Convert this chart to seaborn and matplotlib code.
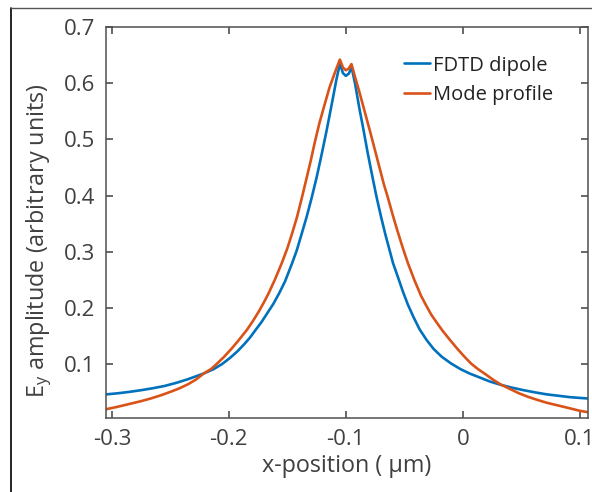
import numpy as np
import pandas as pd
import matplotlib

matplotlib.use("Agg")
import matplotlib.pyplot as plt
from matplotlib.lines import Line2D
import seaborn as sns

# values
fdtd_x = [-0.305, -0.295, -0.285, -0.275, -0.265, -0.255, -0.245, -0.235, -0.2214,
          -0.213, -0.2058, -0.199, -0.193, -0.187, -0.182, -0.1774, -0.172, -0.167,
          -0.162, -0.157, -0.152, -0.1462, -0.142, -0.138, -0.1335, -0.1292, -0.125,
          -0.121, -0.1165, -0.112, -0.108, -0.105, -0.1025, -0.1, -0.0975, -0.095,
          -0.092, -0.0885, -0.085, -0.0815, -0.078, -0.0739, -0.070, -0.066, -0.062,
          -0.0597, -0.055, -0.0512, -0.047, -0.042, -0.037, -0.031, -0.025, -0.018,
          -0.010, -0.002, 0.006, 0.014, 0.023, 0.0325, 0.042, 0.052, 0.062,
          0.072, 0.082, 0.092, 0.107]
fdtd_y = [0.046, 0.048, 0.0505, 0.0535, 0.057, 0.061, 0.0665, 0.073, 0.0833,
          0.091, 0.100, 0.111, 0.122, 0.135, 0.147, 0.160, 0.175, 0.191,
          0.207, 0.226, 0.247, 0.278, 0.302, 0.330, 0.362, 0.396, 0.432,
          0.470, 0.515, 0.563, 0.607, 0.635, 0.618, 0.613, 0.617, 0.628,
          0.598, 0.556, 0.518, 0.478, 0.441, 0.399, 0.363, 0.329, 0.298,
          0.280, 0.252, 0.229, 0.206, 0.183, 0.162, 0.143, 0.127, 0.113,
          0.101, 0.091, 0.083, 0.0765, 0.069, 0.063, 0.058, 0.0535, 0.0495,
          0.046, 0.0435, 0.041, 0.0387]

mode_x = [-0.305, -0.295, -0.285, -0.275, -0.2668, -0.258, -0.25, -0.242, -0.235,
          -0.228, -0.2214, -0.215, -0.210, -0.204, -0.197, -0.191, -0.1845, -0.179,
          -0.174, -0.170, -0.166, -0.1605, -0.1547, -0.150, -0.146, -0.1417, -0.1377,
          -0.134, -0.130, -0.1265, -0.1227, -0.118, -0.114, -0.1095, -0.1051, -0.1025,
          -0.1, -0.0975, -0.0952, -0.092, -0.0885, -0.085, -0.082, -0.079, -0.075,
          -0.071, -0.0675, -0.064, -0.060, -0.056, -0.0515, -0.047, -0.0415, -0.0356,
          -0.031, -0.027, -0.022, -0.0172, -0.011, -0.005, 0.001, 0.007, 0.013,
          0.02, 0.026, 0.0325, 0.04, 0.048, 0.056, 0.064, 0.072, 0.08,
          0.09, 0.1, 0.107]
mode_y = [0.0196, 0.024, 0.029, 0.034, 0.0387, 0.0445, 0.0505, 0.057, 0.064,
          0.0725, 0.0833, 0.0915, 0.101, 0.113, 0.129, 0.144, 0.161, 0.178,
          0.195, 0.210, 0.226, 0.251, 0.280, 0.306, 0.332, 0.362, 0.395,
          0.427, 0.462, 0.495, 0.528, 0.563, 0.592, 0.618, 0.642, 0.628,
          0.623, 0.626, 0.634, 0.610, 0.585, 0.558, 0.535, 0.512, 0.480,
          0.448, 0.420, 0.396, 0.366, 0.338, 0.308, 0.280, 0.250, 0.221,
          0.203, 0.188, 0.173, 0.159, 0.143, 0.128, 0.114, 0.101, 0.091,
          0.081, 0.072, 0.0635, 0.056, 0.048, 0.0415, 0.036, 0.031, 0.027,
          0.022, 0.0168, 0.0143]

series_names = ["FDTD dipole", "Mode profile"]
x_ticks = [-0.3, -0.2, -0.1, 0, 0.1]
x_tick_labels = ["-0.3", "-0.2", "-0.1", "0", "0.1"]
y_ticks = [0.1, 0.2, 0.3, 0.4, 0.5, 0.6, 0.7]

sns.set_theme(style="ticks")
plt.rcParams.update({
    "font.family": ["Open Sans", "DejaVu Sans"],
    "mathtext.fontset": "custom",
    "mathtext.rm": "Open Sans",
    "axes.unicode_minus": False,
    "text.color": "#404040",
    "axes.labelcolor": "#404040",
    "xtick.color": "#404040",
    "ytick.color": "#404040",
})

data = pd.DataFrame({
    "x": fdtd_x + mode_x,
    "amp": fdtd_y + mode_y,
    "series": [series_names[0]] * len(fdtd_x) + [series_names[1]] * len(mode_x),
})

fig = plt.figure(figsize=(5.92, 4.92), dpi=100)
ax = fig.add_axes([106 / 592, 74 / 492, 482 / 592, 391 / 492])

sns.lineplot(data=data, x="x", y="amp", hue="series", sort=False,
             palette=["#0072BD", "#D95319"], linewidth=1.9, ax=ax)

ax.set_xlim(-0.305, 0.107)
ax.set_ylim(0.004, 0.7)
ax.set_xticks(x_ticks)
ax.set_xticklabels(x_tick_labels)
ax.set_yticks(y_ticks)
ax.tick_params(direction="in", length=5, width=1.1, labelsize=16,
               top=True, right=True, pad=8)
for s in ax.spines.values():
    s.set_color("#505050")
    s.set_linewidth(1.1)

ax.set_xlabel("x-position ( µm)", fontsize=16.8, labelpad=3)
ax.set_ylabel(r"E$_\mathregular{y}$ amplitude (arbitrary units)", fontsize=16.8, labelpad=7)
ax.yaxis.label.set_y(0.455)

leg = ax.legend(loc="upper left", bbox_to_anchor=(0.618, 0.927), frameon=False,
                fontsize=14.5, handlelength=1.3, handletextpad=0.15,
                labelspacing=0.45, borderaxespad=0, borderpad=0)
for t in leg.get_texts():
    t.set_color("#222222")

# crop frame of the original figure
fig.add_artist(Line2D([11 / 592, 11 / 592], [0, 1 - 8 / 492], color="black", linewidth=1.2))
fig.add_artist(Line2D([11 / 592, 1], [1 - 8 / 492, 1 - 8 / 492], color="#555555", linewidth=1.0))

fig.savefig("out.png", dpi=100, facecolor="w")
plt.close()
